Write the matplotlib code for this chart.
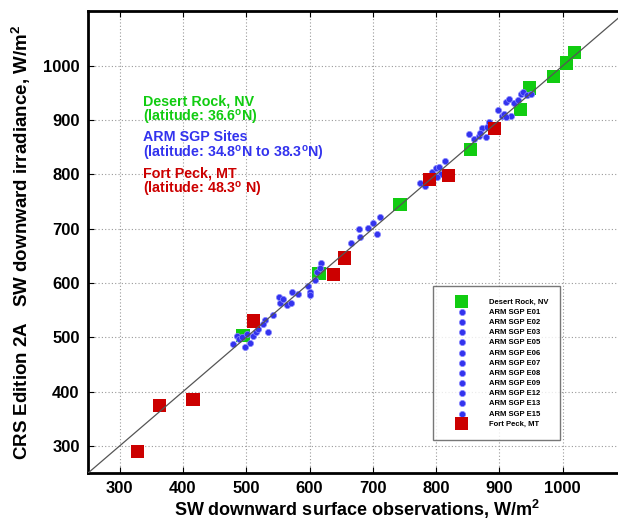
import numpy as np
import matplotlib
matplotlib.use("Agg")
import matplotlib.pyplot as plt

plt.rcParams['font.family'] = ['Liberation Sans', 'DejaVu Sans']
plt.rcParams['font.weight'] = 'bold'
plt.rcParams['mathtext.fontset'] = 'custom'
plt.rcParams['mathtext.rm'] = 'Liberation Sans:bold'
plt.rcParams['mathtext.it'] = 'Liberation Sans:bold'
plt.rcParams['mathtext.bf'] = 'Liberation Sans:bold'

# Desert Rock, NV (green squares)
dr_obs = [495, 615, 743, 854, 933, 947, 986, 1006, 1018]
dr_crs = [504, 618, 745, 846, 920, 959, 980, 1005, 1025]

# Fort Peck, MT (red squares)
fp_obs = [328, 363, 416, 512, 638, 655, 790, 819, 892]
fp_crs = [290, 374, 386, 530, 615, 646, 790, 798, 885]

# ARM SGP extended facilities (blue dots)
arm_sites = ['E01', 'E02', 'E03', 'E05', 'E06', 'E07', 'E08', 'E09', 'E12', 'E13', 'E15']
arm_obs = [
    [479, 530, 601, 706, 860, 918],
    [485, 534, 600, 712, 867, 910],
    [489, 543, 609, 775, 873, 915],
    [494, 551, 612, 783, 878, 923],
    [498, 553, 618, 794, 881, 929],
    [501, 558, 616, 799, 884, 934],
    [506, 564, 666, 805, 870, 938],
    [510, 570, 678, 808, 897, 944],
    [515, 573, 680, 814, 904, 950],
    [519, 582, 693, 802, 907],
    [526, 597, 700, 852, 910],
]
arm_crs = [
    [488, 532, 584, 690, 865, 907],
    [502, 509, 578, 722, 871, 934],
    [496, 541, 606, 785, 885, 939],
    [501, 575, 621, 779, 868, 932],
    [483, 564, 637, 805, 888, 937],
    [506, 570, 627, 811, 897, 948],
    [489, 559, 674, 814, 876, 951],
    [502, 564, 700, 801, 918, 947],
    [510, 584, 685, 825, 908, 948],
    [516, 579, 702, 796, 911],
    [524, 594, 711, 875, 905],
]

ticks = [300, 400, 500, 600, 700, 800, 900, 1000]

green = '#11cc11'
blue = '#3333ee'
red = '#cc0000'

fig = plt.figure(figsize=(6.18, 5.21), dpi=100)
ax = fig.add_axes([0.1424, 0.092, 0.8706, 0.886])

ax.scatter(dr_obs, dr_crs, marker='s', s=90, color=green, edgecolors='none',
           label='Desert Rock, NV', zorder=3)
for site, xs, ys in zip(arm_sites, arm_obs, arm_crs):
    ax.scatter(xs, ys, marker='o', s=20, color=blue, edgecolors='#8888ff',
               linewidths=0.5, label='ARM SGP ' + site, zorder=4)
ax.scatter(fp_obs, fp_crs, marker='s', s=90, color=red, edgecolors='none',
           label='Fort Peck, MT', zorder=5)

ax.plot([250, 1100], [250, 1100], color='#555555', lw=0.9, zorder=6)

ax.set_xlim(250, 1100)
ax.set_ylim(250, 1100)
ax.set_xticks(ticks)
ax.set_yticks(ticks)
ax.tick_params(direction='in', length=4, width=0.8, top=True, right=True,
               labelsize=12, pad=6)
for lab in ax.get_xticklabels() + ax.get_yticklabels():
    lab.set_fontweight('bold')
ax.grid(True, linestyle=(0, (1, 2)), color='#999999', lw=0.8)
for sp in ax.spines.values():
    sp.set_linewidth(2)

ax.set_xlabel('SW downward surface observations, W/m$^2$', fontsize=13,
              fontweight='bold', labelpad=1)
ax.set_ylabel('CRS Edition 2A   SW downward irradiance, W/m$^2$', fontsize=13.5,
              fontweight='bold', labelpad=7)

ax.text(337, 917, 'Desert Rock, NV\n(latitude: 36.6$^o$N)', color=green,
        fontsize=10.3, fontweight='bold', va='center', linespacing=1.0)
ax.text(337, 851, 'ARM SGP Sites\n(latitude: 34.8$^o$N to 38.3$^o$N)', color=blue,
        fontsize=10.3, fontweight='bold', va='center', linespacing=1.0)
ax.text(337, 785, 'Fort Peck, MT\n(latitude: 48.3$^o$ N)', color=red,
        fontsize=10.3, fontweight='bold', va='center', linespacing=1.0)

leg = ax.legend(loc='upper left', bbox_to_anchor=(0.641, 0.405), borderaxespad=0,
                fontsize=5.5, frameon=True, fancybox=False, edgecolor='#555555',
                labelspacing=0.37, handletextpad=1.3, borderpad=1.6,
                handlelength=4.4, scatterpoints=1)
leg.get_frame().set_linewidth(1.0)
for t in leg.get_texts():
    t.set_fontweight('bold')

fig.savefig('out.png', dpi=100)
